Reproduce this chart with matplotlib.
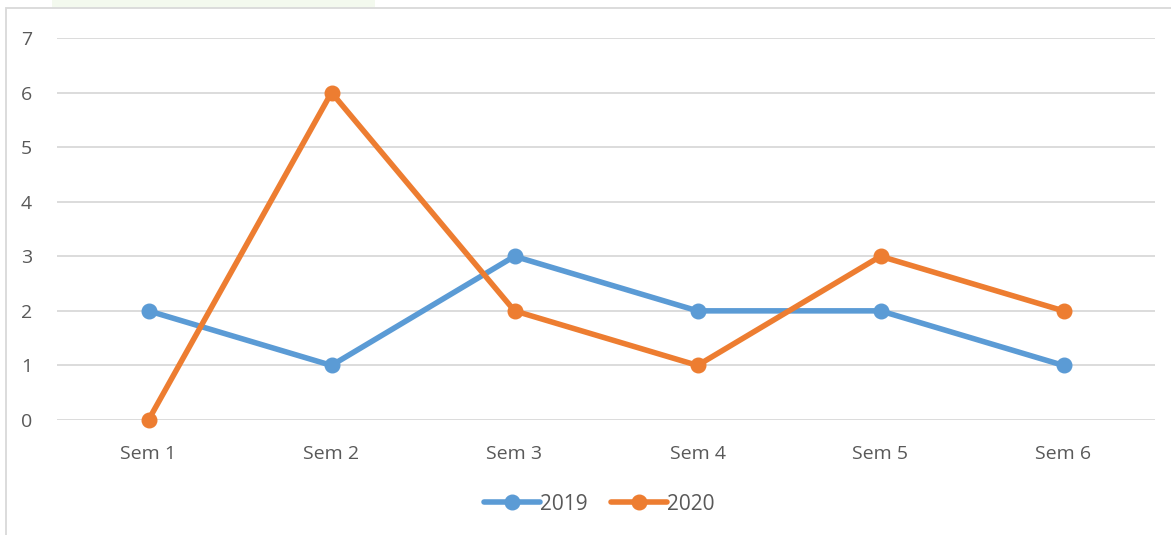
import matplotlib
matplotlib.use("Agg")
import matplotlib.pyplot as plt
from matplotlib.patches import Rectangle

categories = ["Sem 1", "Sem 2", "Sem 3", "Sem 4", "Sem 5", "Sem 6"]
series_2019 = [2, 1, 3, 2, 2, 1]
series_2020 = [0, 6, 2, 1, 3, 2]
yticks = [0, 1, 2, 3, 4, 5, 6, 7]

plt.rcParams['font.family'] = ['Open Sans', 'DejaVu Sans']
W, H = 1171, 535
fig = plt.figure(figsize=(W / 100, H / 100), dpi=100)
fig.patch.set_facecolor("white")

# faint green strip at top and chart border
fig.add_artist(Rectangle((52 / W, 1 - 8 / H), (375 - 52) / W, 8 / H, transform=fig.transFigure,
                         facecolor="#f3f9ee", edgecolor="none"))
fig.add_artist(Rectangle((6 / W, -0.05), 1.1, 1 - 8 / H + 0.05, transform=fig.transFigure,
                         facecolor="none", edgecolor="#d9d9d9", linewidth=1.3))

ax = fig.add_axes([57 / W, 1 - 420 / H, (1155 - 57) / W, (420 - 38) / H])
x = [i + 0.5 for i in range(len(categories))]
ax.plot(x, series_2019, color="#5B9BD5", lw=4.0, marker="o", ms=10.5, label="2019",
        solid_capstyle="round", zorder=3, clip_on=False)
ax.plot(x, series_2020, color="#ED7D31", lw=4.0, marker="o", ms=10.5, label="2020",
        solid_capstyle="round", zorder=3, clip_on=False)

ax.set_xlim(0, len(categories))
ax.set_ylim(0, 7)
ax.set_yticks(yticks)
ax.set_xticks(x)
ax.set_xticklabels(categories)
ax.grid(axis="y", color="#d9d9d9", lw=1.3)
ax.set_axisbelow(True)
for s in ax.spines.values():
    s.set_visible(False)
ax.tick_params(length=0, labelsize=14, colors="#595959")
ax.tick_params(axis="y", pad=22)
for lab in ax.get_yticklabels():
    lab.set_horizontalalignment("center")
ax.tick_params(axis="x", pad=18)
ax.set_facecolor("none")

leg = fig.legend(loc="center", bbox_to_anchor=(599 / W, 1 - 504 / H), ncol=2, frameon=False,
                 fontsize=15, handlelength=2.7, columnspacing=1.1, handletextpad=0.0,
                 labelcolor="#595959")
fig.savefig("out.png", dpi=100)
